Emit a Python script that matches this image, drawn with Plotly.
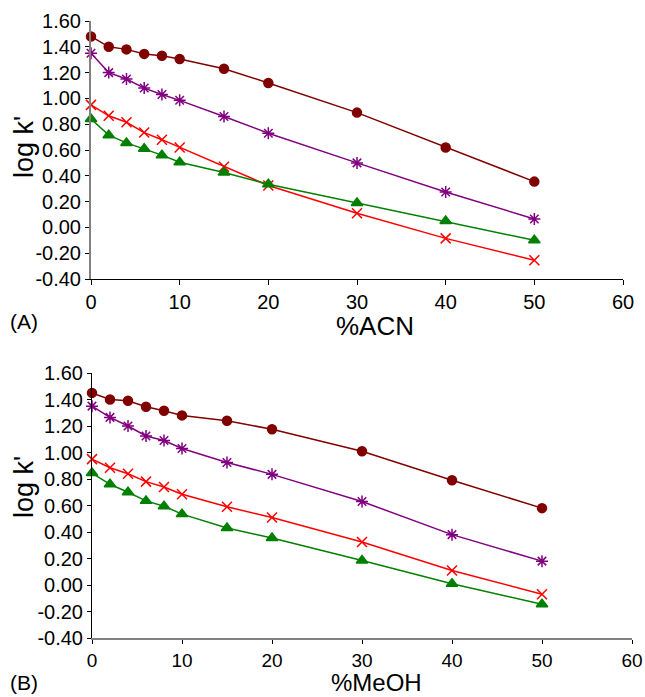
import plotly.graph_objects as go

# ---- data ----
x_pct = [0, 2, 4, 6, 8, 10, 15, 20, 30, 40, 50]

acn_brown = [1.48, 1.40, 1.38, 1.345, 1.33, 1.305, 1.23, 1.12, 0.89, 0.62, 0.355]
acn_purple = [1.35, 1.20, 1.15, 1.08, 1.03, 0.985, 0.86, 0.73, 0.50, 0.275, 0.065]
acn_red = [0.95, 0.865, 0.815, 0.735, 0.68, 0.62, 0.47, 0.325, 0.11, -0.085, -0.255]
acn_green = [0.84, 0.715, 0.655, 0.61, 0.56, 0.505, 0.425, 0.335, 0.19, 0.05, -0.10]

meoh_brown = [1.45, 1.40, 1.39, 1.345, 1.315, 1.28, 1.24, 1.175, 1.01, 0.79, 0.58]
meoh_purple = [1.35, 1.265, 1.20, 1.125, 1.09, 1.03, 0.925, 0.835, 0.63, 0.38, 0.18]
meoh_red = [0.95, 0.885, 0.84, 0.78, 0.74, 0.685, 0.59, 0.51, 0.325, 0.11, -0.07]
meoh_green = [0.845, 0.76, 0.70, 0.635, 0.595, 0.535, 0.43, 0.355, 0.185, 0.01, -0.145]

y_ticks = [-0.4, -0.2, 0.0, 0.2, 0.4, 0.6, 0.8, 1.0, 1.2, 1.4, 1.6]
y_tick_labels = ["-0.40", "-0.20", "0.00", "0.20", "0.40", "0.60", "0.80",
                 "1.00", "1.20", "1.40", "1.60"]
x_ticks = [0, 10, 20, 30, 40, 50, 60]

W, H = 645, 697
FONT = "Arial, Liberation Sans, sans-serif"

series_style = [
    ("#800000", dict(symbol="circle", size=9)),
    ("#800080", dict(symbol="asterisk-open", size=10)),
    ("#FF0000", dict(symbol="x-thin-open", size=10)),
    ("#008000", dict(symbol="triangle-up", size=10)),
]

fig = go.Figure()

panels = [
    ("x", "y", [acn_brown, acn_purple, acn_red, acn_green]),
    ("x2", "y2", [meoh_brown, meoh_purple, meoh_red, meoh_green]),
]
for xa, ya, data in panels:
    for (color, m), ys in zip(series_style, data):
        fig.add_trace(go.Scatter(
            x=x_pct, y=ys, xaxis=xa, yaxis=ya, mode="lines+markers",
            line=dict(color=color, width=1.5),
            marker=dict(color=color, line=dict(color=color, width=1.5), **m),
            cliponaxis=False, showlegend=False))

def px_x(p):
    return p / W

def px_y(p):
    return 1 - p / H

def yaxis(top, bottom, linecolor, linewidth):
    return dict(domain=[px_y(bottom), px_y(top)], range=[-0.4, 1.6],
                tickvals=y_ticks, ticktext=y_tick_labels, ticks="outside",
                ticklen=4, tickcolor="black", showgrid=False, zeroline=False,
                showline=True, linecolor=linecolor, linewidth=linewidth,
                tickfont=dict(family=FONT, size=20, color="black"),
                fixedrange=True, automargin=False)

def xaxis(left, right, anchor, linecolor, linewidth, fsize, tlen):
    return dict(domain=[px_x(left), px_x(right)], range=[0, 60], anchor=anchor,
                tickvals=x_ticks, ticks="outside", ticklen=tlen, tickcolor="black",
                showgrid=False, zeroline=False, showline=True,
                linecolor=linecolor, linewidth=linewidth,
                tickfont=dict(family=FONT, size=fsize, color="black"),
                automargin=False)

fig.update_layout(
    template="none",
    width=W, height=H, margin=dict(l=0, r=0, t=0, b=0, pad=0),
    paper_bgcolor="white", plot_bgcolor="white",
    xaxis=xaxis(91, 623, "y", "black", 1, 20, 5),
    yaxis=yaxis(21, 279, "#808080", 2),
    xaxis2=xaxis(92, 632, "y2", "#808080", 2, 19, 4),
    yaxis2=dict(yaxis(373, 638, "black", 1), anchor="x2"),
)

def ann(text, x, y, size, angle=0, yanchor="middle"):
    fig.add_annotation(text=text, x=px_x(x), y=px_y(y), xref="paper", yref="paper",
                       showarrow=False, textangle=angle,
                       font=dict(family=FONT, size=size, color="black"),
                       xanchor="center", yanchor=yanchor)

ann("log k'", 24, 147, 27, -90)
ann("log k'", 24, 487, 27, -90)
ann("%ACN", 375, 326, 26)
ann("%MeOH", 377, 698, 24, yanchor="bottom")
ann("(A)", 24, 322, 21)
ann("(B)", 24, 682, 21)

fig.write_html(
    "out.html",
    config={"displayModeBar": False},
    post_script="document.body.style.margin='0';document.body.style.overflow='hidden';",
)
